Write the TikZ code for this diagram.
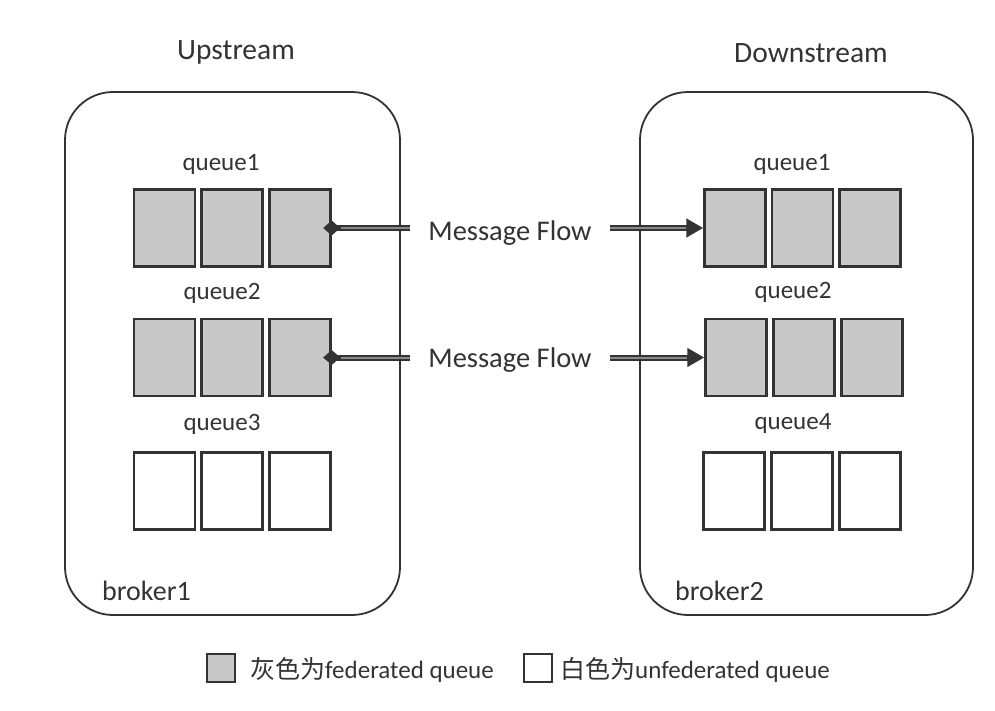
\documentclass[tikz,border=0pt]{standalone}
\usepackage{fontspec}
\setmainfont{Carlito}
\newfontfamily\cjk{Noto Sans CJK SC}
\usetikzlibrary{arrows.meta}
\definecolor{ink}{HTML}{333333}
\definecolor{fedgray}{HTML}{C8C8C8}
\definecolor{linegray}{HTML}{8A8A8A}
\tikzset{
 cell/.style={draw=ink, line width=2.4pt, minimum width=61pt, minimum height=77pt, inner sep=0pt},
 fed/.style={cell, fill=fedgray},
 unfed/.style={cell, fill=white},
 brokerbox/.style={draw=ink, line width=1.8pt, rounded corners=48pt, inner sep=0pt},
 qlabel/.style={font=\fontsize{25}{30}\selectfont, text=ink, anchor=base, inner sep=0pt},
 title/.style={font=\fontsize{29.5}{34}\selectfont, text=ink, anchor=base, inner sep=0pt},
 blabel/.style={font=\fontsize{28}{34}\selectfont, text=ink, anchor=base west, inner sep=0pt},
 flowlabel/.style={font=\fontsize{28.5}{33}\selectfont, text=ink, inner xsep=18pt, inner ysep=0pt, anchor=base},
 flow/.style={draw=ink, line width=6pt},
 flowcore/.style={draw=linegray, line width=2pt},
 legendbox/.style={draw=ink, line width=2pt, minimum width=28pt, minimum height=28pt, inner sep=0pt},
 legendtext/.style={font=\fontsize{25}{30}\selectfont, text=ink, anchor=base west, inner sep=0pt},
}
\begin{document}
\begin{tikzpicture}[x=1pt,y=-1pt]
\useasboundingbox[fill=white] (0,0) rectangle (995,710);

% titles
\node[title] (up) at (236,59) {Upstream};
\node[title] (down) at (811,62) {Downstream};

% broker boxes
\node[brokerbox, minimum width=335pt, minimum height=523pt] (b1) at (232.5,353.5) {};
\node[brokerbox, minimum width=333pt, minimum height=523pt] (b2) at (806.5,353.5) {};
\node[blabel] (b1l) at (102,600) {broker1};
\node[blabel] (b2l) at (675,600) {broker2};

% upstream queues
\node[qlabel] (uq1) at (221,170) {queue1};
\node[fed] (u1a) at (164.5,228) {};
\node[fed] (u1b) at (232,228) {};
\node[fed] (u1c) at (300,228) {};
\node[qlabel] (uq2) at (222,299) {queue2};
\node[fed] (u2a) at (164.5,357.5) {};
\node[fed] (u2b) at (232,357.5) {};
\node[fed] (u2c) at (300,357.5) {};
\node[qlabel] (uq3) at (222,430) {queue3};
\node[unfed] (u3a) at (164.5,491) {};
\node[unfed] (u3b) at (232,491) {};
\node[unfed] (u3c) at (300,491) {};

% downstream queues
\node[qlabel] (dq1) at (792,170) {queue1};
\node[fed] (d1a) at (735,228) {};
\node[fed] (d1b) at (802.5,228) {};
\node[fed] (d1c) at (870,228) {};
\node[qlabel] (dq2) at (793,298) {queue2};
\node[fed] (d2a) at (736,357.5) {};
\node[fed] (d2b) at (804,357.5) {};
\node[fed] (d2c) at (872,357.5) {};
\node[qlabel] (dq4) at (793,429) {queue4};
\node[unfed] (d4a) at (734,491) {};
\node[unfed] (d4b) at (802,491) {};
\node[unfed] (d4c) at (870,491) {};

% message flows
\node[flowlabel] (mf1) at (510,240) {Message Flow};
\node[flowlabel] (mf2) at (510,367) {Message Flow};

\draw[flow, {Diamond[length=17pt,width=15pt]}-, shorten <=-8.5pt] (u1c.east) -- (u1c.east -| mf1.west);
\draw[flowcore, shorten <=9pt] (u1c.east) -- (u1c.east -| mf1.west);
\draw[flow, -{Triangle[length=17pt,width=18pt]}] (d1a.west -| mf1.east) -- (d1a.west);
\draw[flowcore, shorten >=17pt] (d1a.west -| mf1.east) -- (d1a.west);

\draw[flow, {Diamond[length=17pt,width=15pt]}-, shorten <=-8.5pt] (u2c.east) -- (u2c.east -| mf2.west);
\draw[flowcore, shorten <=9pt] (u2c.east) -- (u2c.east -| mf2.west);
\draw[flow, -{Triangle[length=17pt,width=18pt]}] (d2a.west -| mf2.east) -- (d2a.west);
\draw[flowcore, shorten >=17pt] (d2a.west -| mf2.east) -- (d2a.west);

% legend
\node[legendbox, fill=fedgray] (lg1) at (220.5,668) {};
\node[legendtext] (lt1) at (250,678) {{\cjk 灰色为}federated queue};
\node[legendbox, fill=white] (lg2) at (538,668) {};
\node[legendtext] (lt2) at (560,678) {{\cjk 白色为}unfederated queue};
\end{tikzpicture}
\end{document}
